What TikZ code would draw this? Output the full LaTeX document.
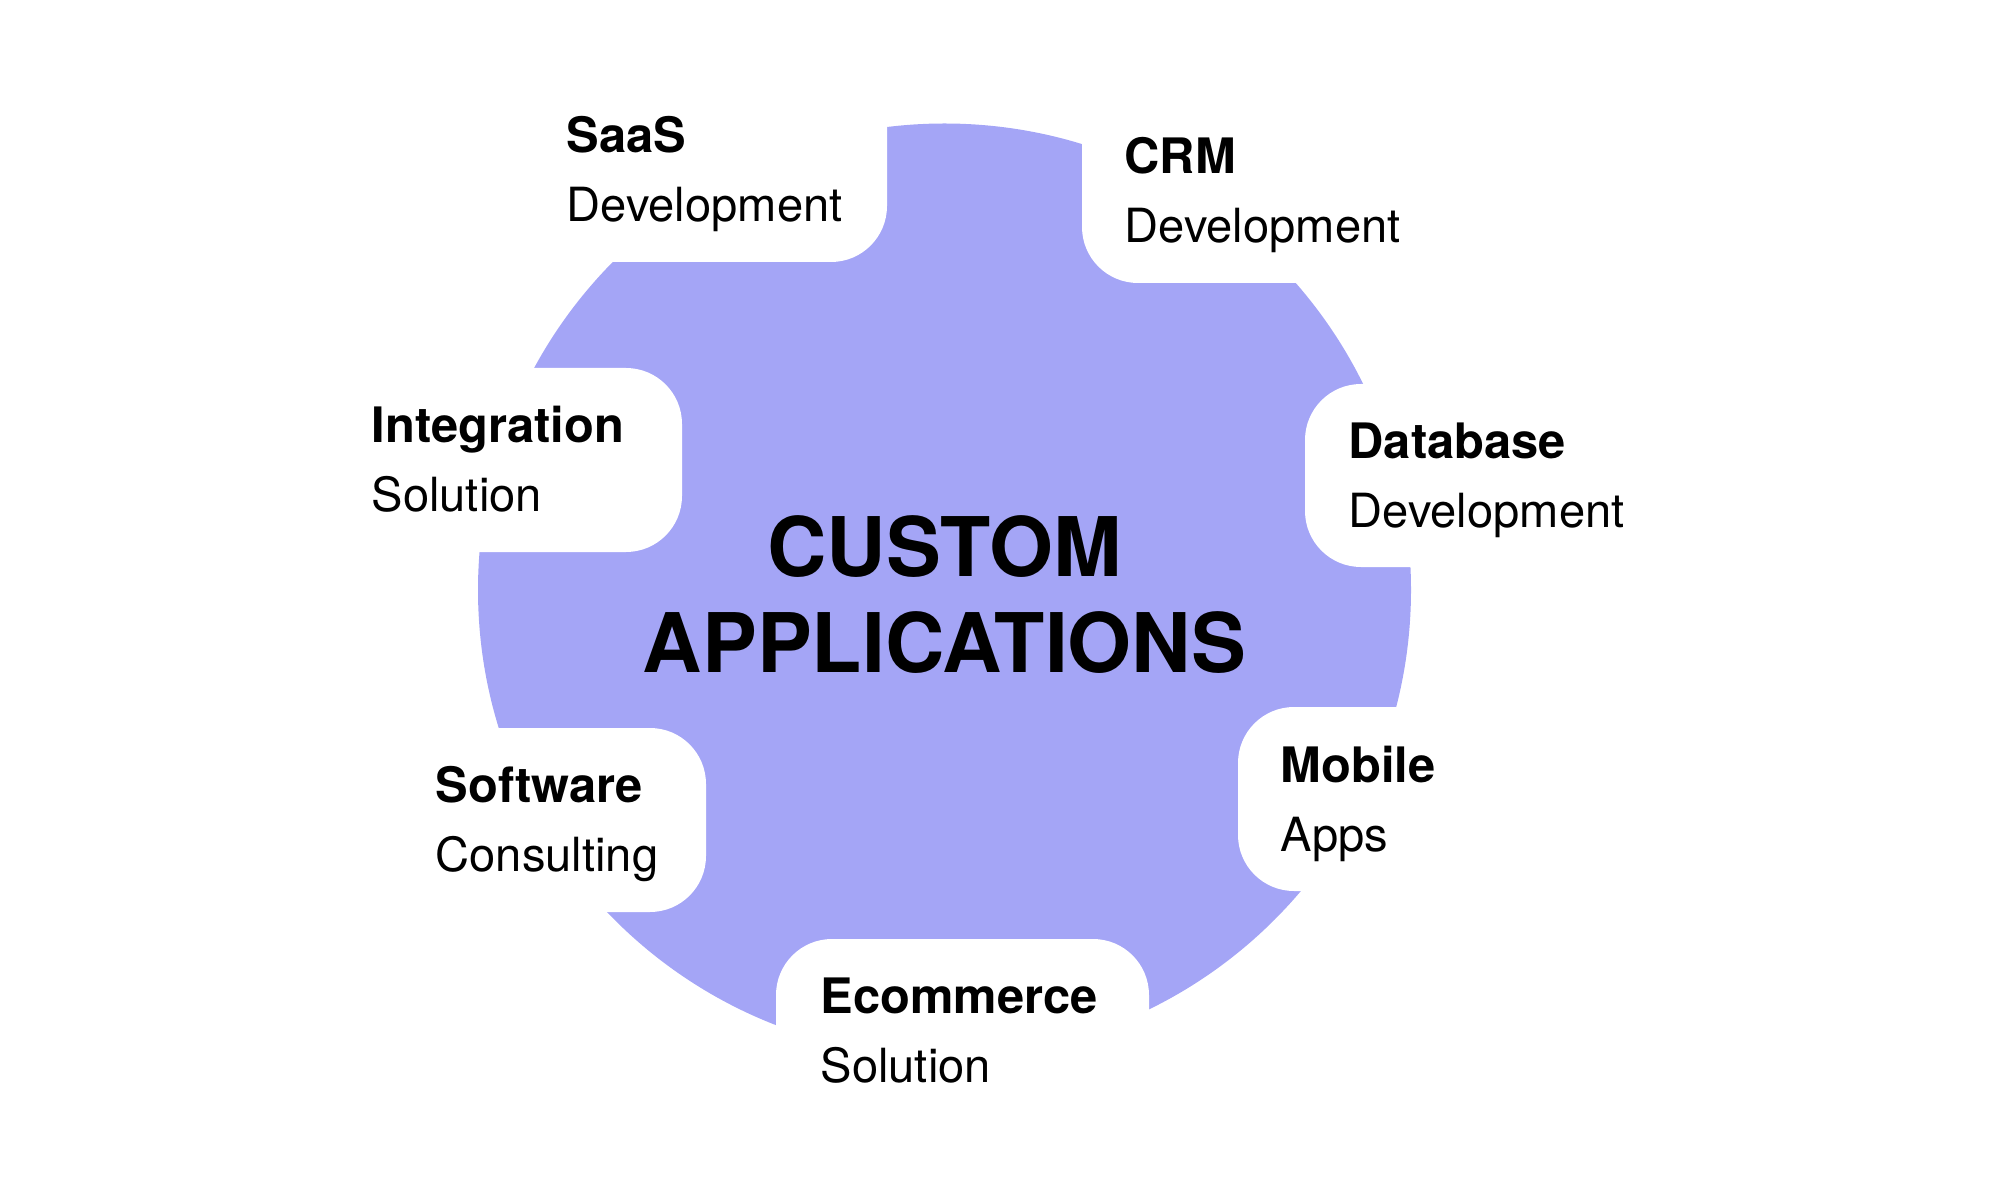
\documentclass[tikz,border=0pt]{standalone}
\usepackage{fontspec}
\setmainfont{TeX Gyre Heros}
\usepackage{tikz}
\usetikzlibrary{positioning}

\definecolor{hubblue}{RGB}{164,165,246}

\begin{document}
\begin{tikzpicture}[
  hub/.style={circle,fill=hubblue,inner sep=0pt,minimum size=9.33cm},
  notch/.style={rectangle,fill=white,rounded corners=5.6mm,inner sep=0pt,minimum width=#1},
  head/.style={anchor=base west,inner sep=0pt,font=\fontsize{13.9pt}{16pt}\selectfont\bfseries},
  sub/.style={anchor=base west,inner sep=0pt,font=\fontsize{13.4pt}{16pt}\selectfont},
  ttl/.style={anchor=base,inner sep=0pt,font=\fontsize{23.4pt}{28pt}\selectfont\bfseries},
]
\useasboundingbox (0,0) rectangle (20,12);

% === central disc ===
\node[hub] (hub) at (9.445,6.10) {};

% === white notches cut into the disc ===
\node[notch=4.07cm,minimum height=2.22cm] (nSaas) at (6.835,10.49) {};
\node[notch=4.18cm,minimum height=2.43cm] (nCrm)  at (12.91,10.385) {};
\node[notch=3.82cm,minimum height=1.84cm] (nInt)  at (4.91,7.40) {};
\node[notch=3.45cm,minimum height=1.83cm] (nDb)   at (14.775,7.245) {};
\node[notch=3.56cm,minimum height=1.84cm] (nSoft) at (5.28,3.80) {};
\node[notch=3.62cm,minimum height=1.84cm] (nMob)  at (14.19,4.01) {};
\node[notch=3.73cm,minimum height=2.11cm] (nEcom) at (9.625,1.555) {};

% === title ===
\node[ttl] (titleA) at (9.445,6.23) {CUSTOM};
\node[ttl] (titleB) at (9.445,5.28) {APPLICATIONS};

% === labels ===
\node[head] (saasH) at (5.66,10.47) {SaaS};
\node[sub] (saasS) at ([yshift=-6.9mm]saasH.base west) {Development};

\node[head] (crmH) at (11.24,10.26) {CRM};
\node[sub] (crmS) at ([yshift=-6.9mm]crmH.base west) {Development};

\node[head] (intH) at (3.71,7.57) {Integration};
\node[sub] (intS) at ([yshift=-6.9mm]intH.base west) {Solution};

\node[head] (dbH) at (13.48,7.41) {Database};
\node[sub] (dbS) at ([yshift=-6.9mm]dbH.base west) {Development};

\node[head] (softH) at (4.35,3.98) {Software};
\node[sub] (softS) at ([yshift=-6.9mm]softH.base west) {Consulting};

\node[head] (mobH) at (12.80,4.18) {Mobile};
\node[sub] (mobS) at ([yshift=-6.9mm]mobH.base west) {Apps};

\node[head] (ecomH) at (8.20,1.87) {Ecommerce};
\node[sub] (ecomS) at ([yshift=-6.9mm]ecomH.base west) {Solution};

\end{tikzpicture}
\end{document}
